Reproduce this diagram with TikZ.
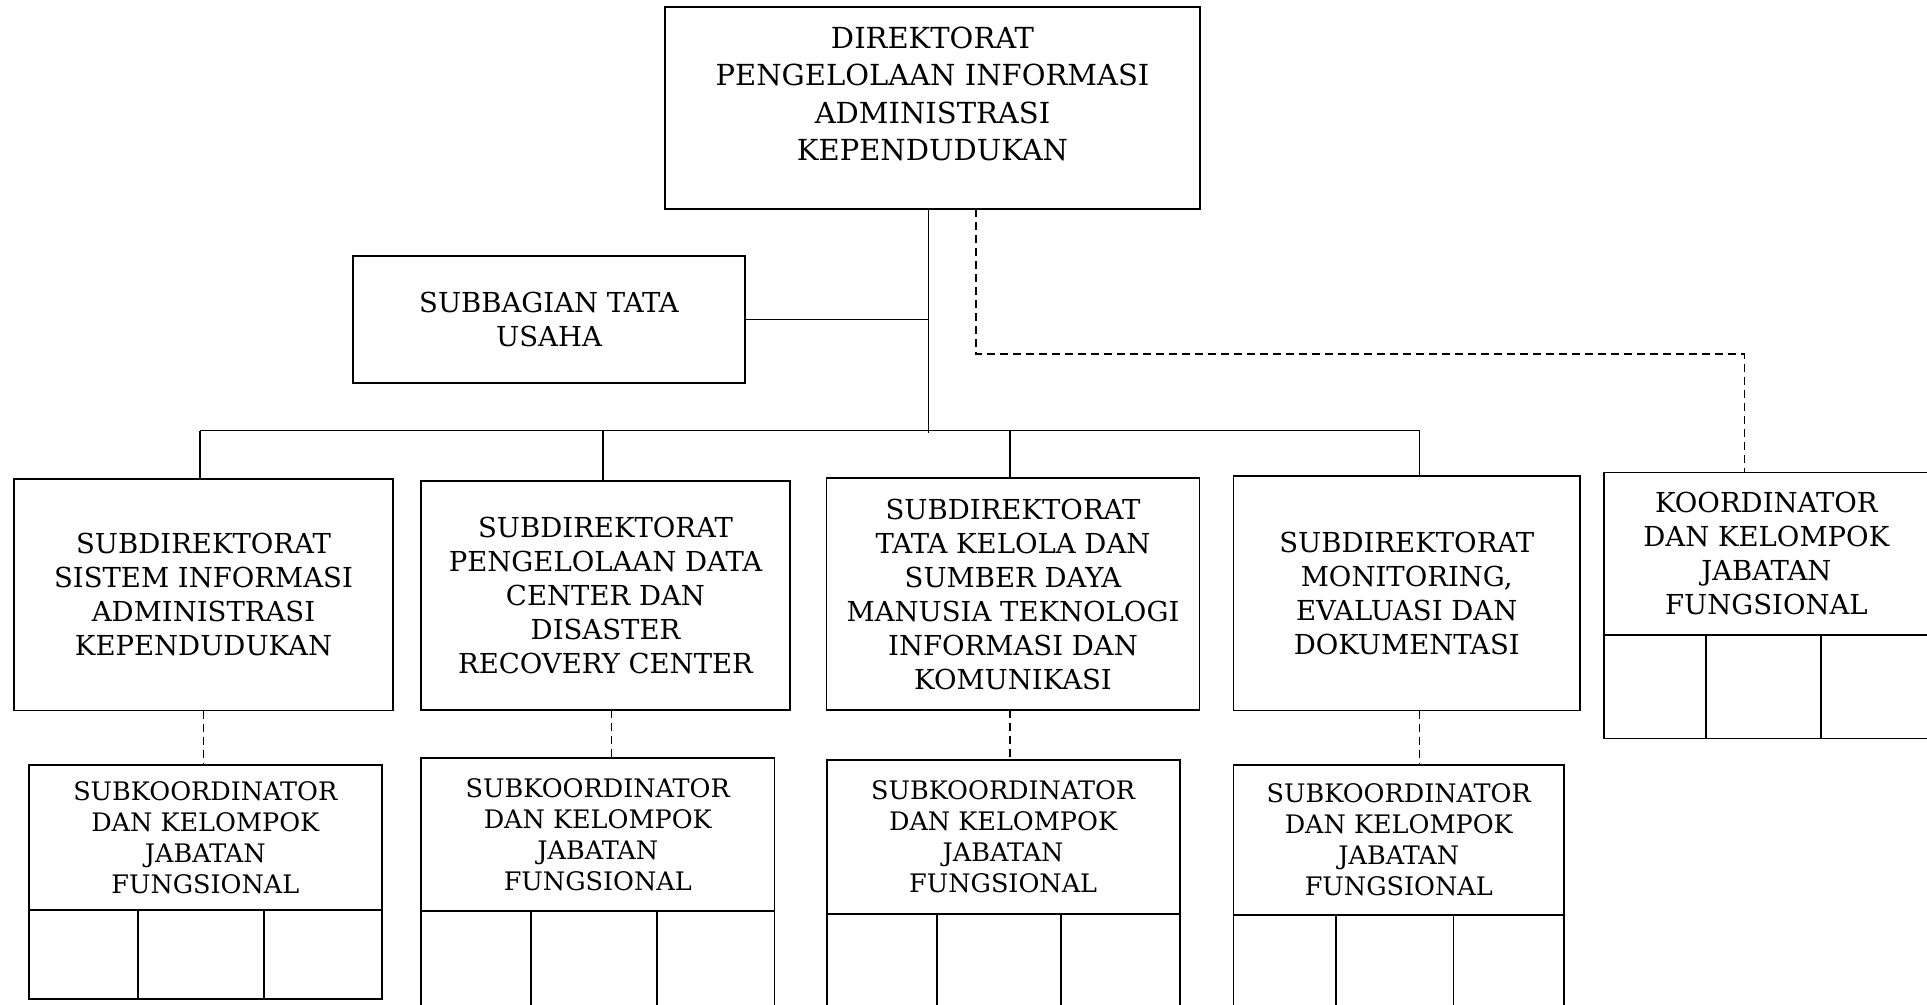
\documentclass[tikz,border=0pt]{standalone}
\usepackage{fontspec}
\setmainfont{DejaVu Serif}
\usetikzlibrary{positioning}
\newcommand{\bigtxt}{\fontsize{29}{37.3}\selectfont}
\newcommand{\midtxt}{\fontsize{27.5}{34}\selectfont}
\newcommand{\smalltxt}{\fontsize{25.5}{31}\selectfont}
\begin{document}
\begin{tikzpicture}[x=1pt,y=-1pt,line width=1.8pt,
  box/.style={draw,rectangle,outer sep=0pt,inner sep=0pt,align=center,font=\midtxt},
  subbox/.style={box,font=\smalltxt},
  cell/.style={draw,rectangle,outer sep=0pt,inner sep=0pt},
  link/.style={dash pattern=on 8pt off 5pt}]
\useasboundingbox(0,0)rectangle(1927,1004);\clip(0,0)rectangle(1927,1004);\fill[white](0,0)rectangle(1927,1004);
% direktorat and subbagian
\node[box,minimum width=535pt,minimum height=202pt](dir)at(932.5,108){};
\node[font=\bigtxt,align=center,inner sep=0pt](dirtext)at(932.5,94){DIREKTORAT\\PENGELOLAAN INFORMASI\\ADMINISTRASI\\KEPENDUDUKAN};
\node[box,minimum width=392pt,minimum height=127pt](tu)at(549,319.5){SUBBAGIAN TATA\\USAHA};
% subdirektorat
\node[box,minimum width=379pt,minimum height=231.5pt](s1)at(203.5,594.75){SUBDIREKTORAT\\SISTEM INFORMASI\\ADMINISTRASI\\KEPENDUDUKAN};
\node[box,minimum width=369pt,minimum height=229pt](s2)at(605.5,595.5){SUBDIREKTORAT\\PENGELOLAAN DATA\\CENTER DAN\\DISASTER\\RECOVERY CENTER};
\node[box,minimum width=373pt,minimum height=232.5pt](s3)at(1013,594){SUBDIREKTORAT\\TATA KELOLA DAN\\SUMBER DAYA\\MANUSIA TEKNOLOGI\\INFORMASI DAN\\KOMUNIKASI};
\node[box,minimum width=346.5pt,minimum height=234.5pt](s4)at(1406.75,593.25){SUBDIREKTORAT\\MONITORING,\\EVALUASI DAN\\DOKUMENTASI};
% koordinator
\node[box,minimum width=325.3pt,minimum height=162.5pt](k)at(1766.35,553.75){KOORDINATOR\\DAN KELOMPOK\\JABATAN\\FUNGSIONAL};
\node[cell,minimum width=102.1pt,minimum height=103.4pt,anchor=north west](ka)at(k.south west){};\node[cell,minimum width=115pt,minimum height=103.4pt,right=0pt of ka](kb){};\node[cell,minimum width=108.2pt,minimum height=103.4pt,right=0pt of kb](kc){};
% subkoordinator
\node[subbox,minimum width=352.6pt,minimum height=145pt](j1)at(205.3,837.5){SUBKOORDINATOR\\DAN KELOMPOK\\JABATAN\\FUNGSIONAL};
\node[cell,minimum width=109pt,minimum height=89pt,anchor=north west](j1a)at(j1.south west){};\node[cell,minimum width=126pt,minimum height=89pt,right=0pt of j1a](j1b){};\node[cell,minimum width=117.6pt,minimum height=89pt,right=0pt of j1b](j1c){};
\node[subbox,minimum width=353.5pt,minimum height=153pt](j2)at(597.75,834.5){SUBKOORDINATOR\\DAN KELOMPOK\\JABATAN\\FUNGSIONAL};
\node[cell,minimum width=110pt,minimum height=100pt,anchor=north west](j2a)at(j2.south west){};\node[cell,minimum width=125.6pt,minimum height=100pt,right=0pt of j2a](j2b){};\node[cell,minimum width=117.9pt,minimum height=100pt,right=0pt of j2b](j2c){};
\node[subbox,minimum width=353pt,minimum height=154.3pt](j3)at(1003.1,836.85){SUBKOORDINATOR\\DAN KELOMPOK\\JABATAN\\FUNGSIONAL};
\node[cell,minimum width=110pt,minimum height=100pt,anchor=north west](j3a)at(j3.south west){};\node[cell,minimum width=124.4pt,minimum height=100pt,right=0pt of j3a](j3b){};\node[cell,minimum width=118.6pt,minimum height=100pt,right=0pt of j3b](j3c){};
\node[subbox,minimum width=330.5pt,minimum height=150pt](j4)at(1398.75,840){SUBKOORDINATOR\\DAN KELOMPOK\\JABATAN\\FUNGSIONAL};
\node[cell,minimum width=102.1pt,minimum height=100pt,anchor=north west](j4a)at(j4.south west){};\node[cell,minimum width=117.9pt,minimum height=100pt,right=0pt of j4a](j4b){};\node[cell,minimum width=110.5pt,minimum height=100pt,right=0pt of j4b](j4c){};
% solid lines
\coordinate(trunk)at(928.5,433);\coordinate(busL)at(200,430.5);\coordinate(busR)at(1419.5,430.5);\coordinate(tap2)at(603,430.5);\coordinate(tap3)at(1010,430.5);
\draw(dir.south-|trunk)--(trunk);\draw(tu.east)--(tu.east-|trunk);\draw(busL)--(busR);
\draw(busL)--(busL|-s1.north);\draw(tap2)--(tap2|-s2.north);\draw(tap3)--(tap3|-s3.north);\draw(busR)--(busR|-s4.north);
% dashed lines
\coordinate(kbend)at(976,354);\coordinate(kdrop)at(1744.5,354);\coordinate(drop2)at(611.5,720);
\draw[link](dir.south-|kbend)--(kbend)--(kdrop)--(kdrop|-k.north);
\draw[link](s1.south)--(s1.south|-j1.north);\draw[link](s2.south-|drop2)--(j2.north-|drop2);\draw[link](s3.south-|tap3)--(j3.north-|tap3);\draw[link](s4.south-|busR)--(j4.north-|busR);
\end{tikzpicture}
\end{document}
